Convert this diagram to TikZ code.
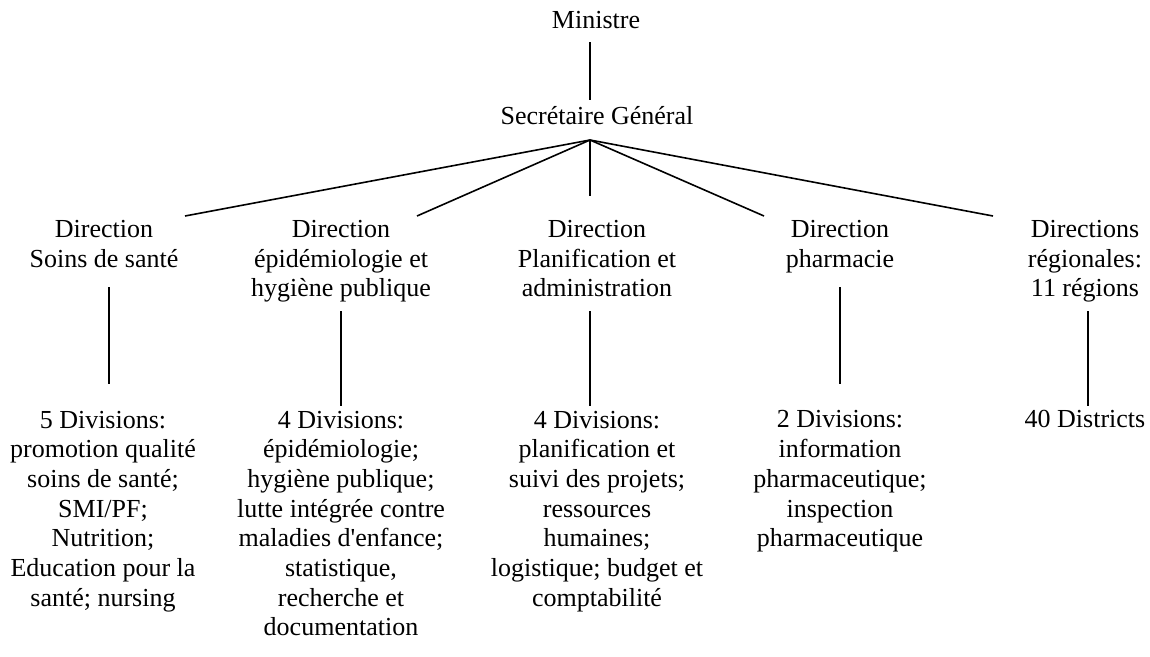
\documentclass[tikz,border=0pt]{standalone}
\usepackage{fontspec}
\setmainfont{Liberation Serif}
\tikzset{
  lbl/.style={anchor=north, inner sep=0pt, align=center, font=\fontsize{26}{29.7}\selectfont},
  link/.style={line width=1.6pt, black}
}
\begin{document}
\begin{tikzpicture}[x=1pt,y=-1pt]
\useasboundingbox (0,0) rectangle (1150,656);
% text nodes (position = first baseline - 0.7 baselineskip)
\node[lbl] (min) at (596,7.2) {\strut Ministre};
\node[lbl] (sg) at (597,104) {\strut Secrétaire Général};
\node[lbl] (d1) at (104,216.5) {\strut Direction\\Soins de santé};
\node[lbl] (d2) at (341,216.5) {\strut Direction\\épidémiologie et\\hygiène publique};
\node[lbl] (d3) at (597,216.5) {\strut Direction\\Planification et\\administration};
\node[lbl] (d4) at (840,216.5) {\strut Direction\\pharmacie};
\node[lbl] (d5) at (1085,216.5) {\strut Directions\\régionales:\\11 régions};
\node[lbl] (v1) at (103,407) {\strut 5 Divisions:\\promotion qualité\\soins de santé;\\SMI/PF;\\Nutrition;\\Education pour la\\santé; nursing};
\node[lbl] (v2) at (341,407) {\strut 4 Divisions:\\épidémiologie;\\hygiène publique;\\lutte intégrée contre\\maladies d\textquotesingle enfance;\\statistique,\\recherche et\\documentation};
\node[lbl] (v3) at (597,407) {\strut 4 Divisions:\\planification et\\suivi des projets;\\ressources\\humaines;\\logistique; budget et\\comptabilité};
\node[lbl] (v4) at (840,407) {\strut 2 Divisions:\\information\\pharmaceutique;\\inspection\\pharmaceutique};
\node[lbl] (v5) at (1085,407) {\strut 40 Districts};
% connector end points
\coordinate (min-b) at (590,42);
\coordinate (sg-t) at (590,100);
\coordinate (sg-b) at (590,140);
\coordinate (d1-t) at (185,216);
\coordinate (d2-t) at (417,216);
\coordinate (d3-t) at (590,196);
\coordinate (d4-t) at (764,216);
\coordinate (d5-t) at (993,216);
\coordinate (d1-b) at (109,287);
\coordinate (v1-t) at (109,384);
\coordinate (d2-b) at (341,311);
\coordinate (v2-t) at (341,406);
\coordinate (d3-b) at (590,311);
\coordinate (v3-t) at (590,406);
\coordinate (d4-b) at (840,287);
\coordinate (v4-t) at (840,384);
\coordinate (d5-b) at (1088,311);
\coordinate (v5-t) at (1088,406);
% connectors
\draw[link] (min-b) -- (sg-t);
\foreach \t in {d1-t,d2-t,d3-t,d4-t,d5-t} \draw[link] (sg-b) -- (\t);
\draw[link] (d1-b) -- (v1-t);
\draw[link] (d2-b) -- (v2-t);
\draw[link] (d3-b) -- (v3-t);
\draw[link] (d4-b) -- (v4-t);
\draw[link] (d5-b) -- (v5-t);
\end{tikzpicture}
\end{document}
